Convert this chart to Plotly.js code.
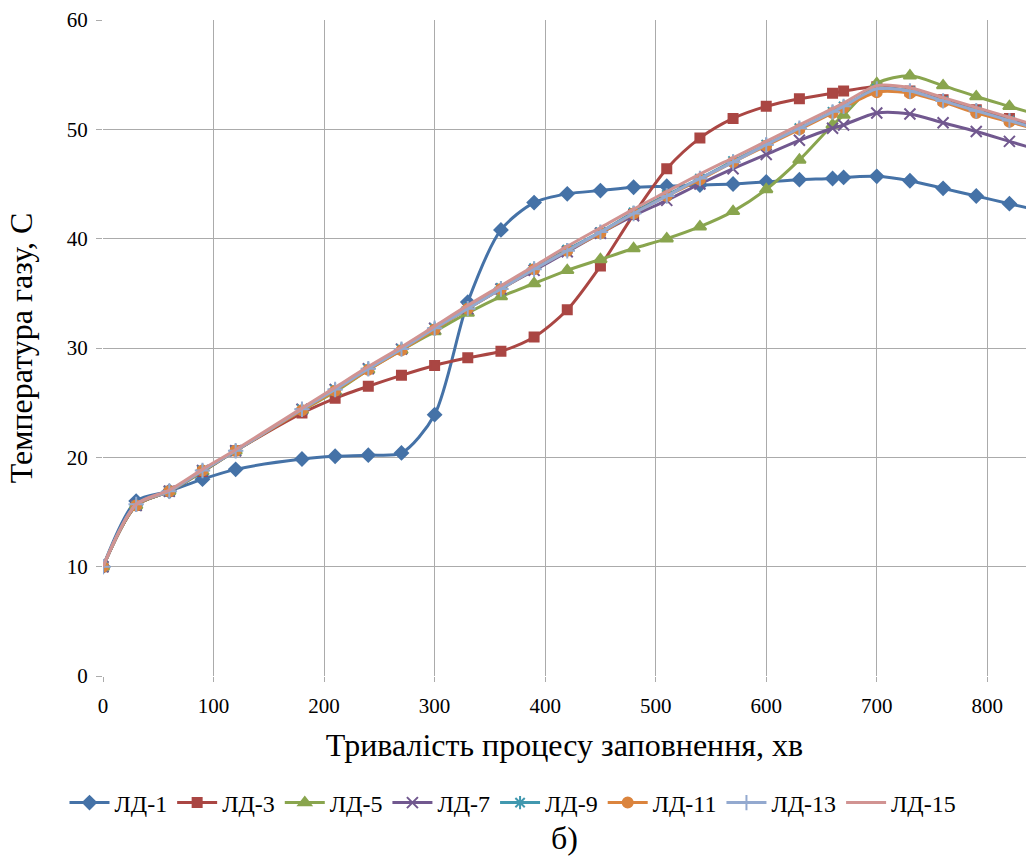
<!DOCTYPE html>
<html>
<head>
<meta charset="utf-8">
<script src="https://cdn.plot.ly/plotly-3.0.1.min.js"></script>
<style>html,body{margin:0;padding:0;background:#fff;}#chart{width:1026px;height:857px;}</style>
</head>
<body>
<div id="chart"></div>
<script>
const xMinutes = [0,30,60,90,120,180,210,240,270,300,330,360,390,420,450,480,510,540,570,600,630,660,670,700,730,760,790,820,850];

const ld1  = [10,16.0,16.9,18.0,18.9,19.85,20.1,20.2,20.4,23.9,34.2,40.8,43.3,44.1,44.4,44.7,44.8,44.9,45.0,45.2,45.4,45.5,45.6,45.7,45.3,44.6,43.9,43.2,42.5];
const ld3  = [10,15.6,16.9,18.7,20.6,24.05,25.4,26.5,27.5,28.4,29.1,29.7,31.0,33.5,37.5,42.2,46.4,49.2,51.0,52.1,52.8,53.3,53.5,53.9,53.5,52.7,51.8,51.0,50.1];
const ld5  = [10,15.6,16.9,18.7,20.6,24.3,26.0,28.0,29.8,31.5,33.2,34.7,35.9,37.1,38.1,39.1,40.0,41.1,42.5,44.5,47.2,50.4,51.3,54.2,54.9,54.0,53.0,52.1,51.2];
const ld7  = [10,15.6,16.9,18.8,20.6,24.4,26.2,28.1,29.9,31.8,33.6,35.4,37.1,38.8,40.5,42.1,43.5,45.0,46.4,47.7,49.0,50.1,50.4,51.5,51.4,50.6,49.8,48.9,48.0];
const ld9  = [10,15.6,16.9,18.8,20.6,24.4,26.2,28.1,29.9,31.8,33.7,35.5,37.3,39.0,40.6,42.4,44.0,45.5,47.1,48.6,50.1,51.6,52.1,53.7,53.5,52.6,51.7,50.8,49.9];
const ld11 = [10,15.6,16.9,18.8,20.6,24.3,26.1,28.0,29.8,31.7,33.6,35.4,37.2,38.9,40.5,42.3,43.9,45.4,47.0,48.5,50.0,51.5,52.0,53.4,53.3,52.5,51.5,50.7,49.8];
const ld13 = [10,15.7,16.9,18.8,20.6,24.4,26.2,28.1,29.9,31.8,33.6,35.4,37.2,38.9,40.6,42.3,43.9,45.5,47.0,48.6,50.1,51.6,52.1,53.7,53.5,52.6,51.7,50.8,49.9];
const ld15 = [10,15.7,17.0,18.9,20.7,24.5,26.4,28.3,30.1,32.0,33.9,35.7,37.5,39.3,41.0,42.7,44.3,45.9,47.4,48.9,50.4,51.9,52.4,54.0,53.8,52.9,52.0,51.1,50.2];

const seriesNames = ['ЛД-1','ЛД-3','ЛД-5','ЛД-7','ЛД-9','ЛД-11','ЛД-13','ЛД-15'];
const seriesValues = [ld1, ld3, ld5, ld7, ld9, ld11, ld13, ld15];
const colors = ['#4572A7','#AA4643','#89A54E','#71588F','#4198AF','#DB843D','#93A9CF','#D19392'];
const symbols = ['diamond','square','triangle-up','x-thin-open','asterisk-open','circle','cross-thin-open','circle'];
const sizes = [10,9,11,11,11,10,11,0];

const xTickVals = [0,100,200,300,400,500,600,700,800];
const yTickVals = [0,10,20,30,40,50,60];

const FAM = 'Liberation Serif';

const traces = seriesNames.map((n,i) => ({
  type: 'scatter',
  mode: sizes[i] > 0 ? 'lines+markers' : 'lines',
  name: n,
  x: xMinutes,
  y: seriesValues[i],
  line: {color: colors[i], width: 3, shape: 'spline', smoothing: 0.8},
  marker: {symbol: symbols[i], size: sizes[i], color: colors[i], line: {color: colors[i], width: 2}}
}));

const layout = {
  width: 1026, height: 857,
  paper_bgcolor: '#fff', plot_bgcolor: '#fff',
  margin: {l: 103, r: 0, t: 20, b: 181},
  font: {family: FAM, color: '#000', size: 21},
  showlegend: true,
  legend: {orientation: 'h', xref: 'container', yref: 'container', x: 0.5, xanchor: 'center', y: 0.063, yanchor: 'middle', font: {family: FAM, size: 24, color: '#000'}, itemwidth: 40, traceorder: 'normal'},
  xaxis: {
    range: [0, 835], tickvals: xTickVals, ticktext: xTickVals.map(String),
    showgrid: true, gridcolor: '#ababab', gridwidth: 1,
    zeroline: false, showline: false,
    ticks: 'outside', ticklen: 5, tickcolor: '#ababab', ticklabelstandoff: 6,
    tickfont: {family: FAM, size: 21, color: '#000'},
    title: {text: 'Тривалість процесу заповнення, хв', font: {family: FAM, size: 32, color: '#000'}, standoff: 16}
  },
  yaxis: {
    range: [0, 60], tickvals: yTickVals, ticktext: yTickVals.map(String),
    showgrid: true, gridcolor: '#ababab', gridwidth: 1,
    zeroline: false, showline: false,
    ticks: 'outside', ticklen: 6, tickcolor: '#ababab', ticklabelstandoff: 4,
    tickfont: {family: FAM, size: 21, color: '#000'},
    title: {text: 'Температура газу, С', font: {family: FAM, size: 32, color: '#000'}, standoff: 24}
  },
  annotations: [{
    text: 'б)', xref: 'paper', yref: 'paper', x: 0.5, y: -0.247, xanchor: 'center', yanchor: 'middle',
    showarrow: false, font: {family: FAM, size: 32, color: '#000'}
  }]
};

Plotly.newPlot('chart', traces, layout, {displayModeBar: false, staticPlot: true});
</script>
</body>
</html>
